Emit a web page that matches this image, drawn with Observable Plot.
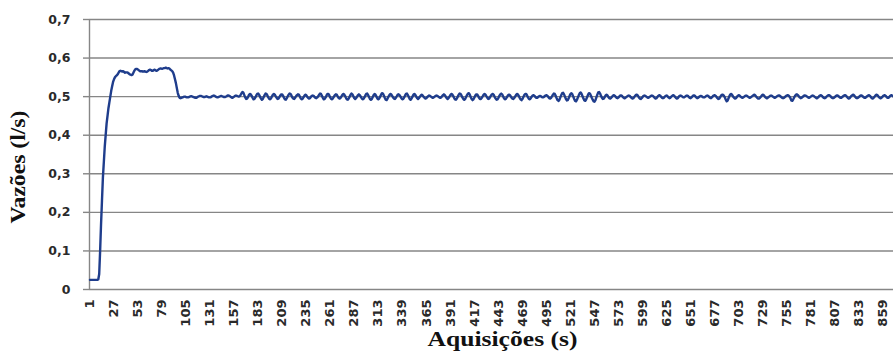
<!DOCTYPE html>
<html><head><meta charset="utf-8">
<script src="https://cdn.jsdelivr.net/npm/d3@7"></script>
<script src="https://cdn.jsdelivr.net/npm/@observablehq/plot@0.6"></script>
<style>body{margin:0;background:#fff}</style>
</head><body><div id="chart"></div>
<script>
// Vazões (l/s) per acquisition
const startup = [
.025,.025,.025,.025,.025,.025,.025,.025,.025,.026,
.04,.10,.17,.23,.29,.33,.37,.40,.43,.45,
.47,.485,.50,.515,.527,.538,.545,.55,.553,.555
];
const plateau = [
.558,.562,.566,.567,.566,.565,.566,.564,.562,.563,
.563,.562,.560,.558,.557,.556,.557,.562,.567,.571,
.572,.572,.570,.568,.566,.566,.566,.565,.565,.566,
.565,.564,.565,.567,.569,.570,.569,.567,.567,.569,
.570,.568,.567,.568,.570,.572,.573,.573,.572,.573,
.574,.574,.575,.574,.573,.574,.573,.570,.568,.566,
.562,.555,.545,.535,.522,.510,.502,.497,.496,.497
];
const settled = [
.498,.499,.500,.500,.499,.498,.498,.499,.500,.501,
.501,.500,.499,.498,.497,.497,.498,.500,.501,.502,
.502,.501,.500,.499,.499,.500,.501,.500,.499,.498,
.498,.499,.501,.502,.503,.502,.500,.499,.498,.499,
.500,.501,.502,.501,.500,.499,.499,.500,.501,.503,
.503,.502,.500,.498,.497,.498,.500,.502,.503,.502,
.501,.500,.501,.504,.509,
.512,.510,.504,.498,.494,.495,.499,.504,.507,.506,
.502,.497,.493,.494,.498,.503,.507,.508,.505,.500,
.495,.492,.494,.499,.504,.508,.507,.503,.498,.494,
.493,.496,.501,.505,.507,.505,.501,.497,.494,.495,
.499,.503,.506,.506,.502,.497,.493,.492,.496,.501,
.505,.508,.507,.503,.498,.495,.494,.497,.501,.504,
.506,.505,.501,.496,.493,.494,.498,.502,.505,.504,
.500,.497,.495,.496,.499,.502,.503,.502,.499,.497,
.496,.498,.501,.505,.508,.507,.502,.497,.493,.494,
.498,.503,.507,.507,.503,.498,.494,.493,.496,.500,
.504,.506,.505,.501,.497,.495,.496,.500,.504,.507,
.506,.502,.497,.493,.492,.495,.500,.505,.508,.506,
.501,.496,.494,.496,.500,.504,.506,.504,.500,.496,
.493,.494,.498,.503,.507,.508,.504,.499,.494,.492,
.494,.499,.504,.507,.505,.500,.495,.493,.495,.500,
.505,.509,.508,.503,.497,.492,.491,.495,.500,.504,
.507,.506,.502,.498,.495,.494,.497,.501,.505,.506,
.504,.500,.496,.493,.494,.498,.503,.507,.508,.504,
.499,.494,.492,.495,.500,.505,.507,.505,.500,.496,
.494,.496,.500,.503,.505,.503,.500,.497,.495,.496,
.499,.501,.503,.502,.500,.498,.497,.498,.500,.502,
.503,.502,.500,.498,.497,.498,.501,.504,.506,.504,
.500,.496,.494,.496,.500,.504,.507,.506,.502,.497,
.493,.492,.495,.500,.505,.508,.507,.503,.498,.494,
.492,.494,.499,.504,.508,.509,.505,.499,.494,.491,
.493,.498,.503,.506,.506,.502,.497,.494,.494,.497,
.501,.505,.507,.505,.501,.497,.494,.495,.499,.503,
.506,.507,.504,.499,.495,.492,.493,.497,.502,.506,
.508,.506,.501,.496,.493,.494,.498,.502,.505,.505,
.502,.498,.495,.494,.496,.500,.504,.507,.506,.502,
.497,.493,.491,.494,.499,.504,.507,.507,.503,.498,
.494,.493,.496,.500,.503,.504,.502,.499,.497,.497,
.499,.501,.502,.501,.499,.498,.499,.501,.503,.504,
.502,.499,.496,.495,.497,.501,.505,.508,.507,.502,
.496,.491,.489,.492,.498,.504,.509,.510,.506,.500,
.494,.490,.491,.496,.502,.507,.509,.506,.500,.494,
.489,.488,.492,.498,.504,.509,.511,.507,.501,.495,
.490,.489,.493,.499,.505,.509,.508,.503,.497,.492,
.488,.487,.491,.498,.505,.511,.512,.508,.502,.497,
.494,.495,.499,.503,.505,.503,.499,.496,.495,.497,
.500,.503,.504,.502,.499,.497,.496,.498,.501,.503,
.503,.501,.498,.496,.496,.498,.500,.502,.503,.502,
.499,.497,.495,.496,.499,.502,.505,.505,.502,.498,
.495,.494,.496,.499,.502,.503,.502,.500,.498,.497,
.498,.500,.502,.503,.502,.500,.497,.495,.496,.499,
.502,.504,.503,.500,.497,.496,.497,.500,.502,.503,
.501,.498,.496,.497,.500,.502,.504,.503,.500,.497,
.495,.496,.499,.502,.503,.502,.500,.498,.498,.500,
.502,.503,.502,.499,.497,.496,.498,.501,.503,.503,
.501,.498,.496,.497,.499,.501,.502,.501,.499,.498,
.498,.500,.502,.503,.502,.499,.497,.496,.498,.501,
.503,.504,.502,.499,.496,.494,.495,.499,.503,.505,
.505,.502,.498,.492,.488,.490,.496,.502,.506,.507,
.504,.500,.497,.495,.496,.499,.502,.504,.503,.500,
.498,.497,.498,.500,.502,.503,.502,.500,.498,.497,
.498,.500,.502,.504,.505,.503,.500,.497,.495,.495,
.497,.500,.503,.505,.504,.501,.498,.496,.496,.498,
.500,.502,.503,.502,.500,.498,.497,.498,.500,.502,
.503,.503,.501,.499,.497,.496,.497,.499,.501,.503,
.504,.503,.500,.496,.490,.489,.493,.498,.502,.505,
.506,.504,.501,.498,.496,.497,.499,.501,.503,.503,
.502,.500,.498,.497,.498,.500,.502,.503,.502,.500,
.498,.496,.496,.498,.501,.503,.504,.502,.499,.497,
.496,.497,.500,.502,.504,.504,.502,.499,.497,.496,
.497,.499,.501,.503,.503,.501,.499,.497,.497,.499,
.501,.503,.504,.503,.500,.497,.495,.496,.499,.502,
.504,.505,.503,.500,.497,.496,.497,.499,.501,.503,
.503,.501,.499,.497,.497,.499,.501,.503,.504,.502,
.499,.496,.495,.497,.500,.503,.505,.504,.501,.498,
.496,.496,.498,.501,.503,.504,.502,.499,.497,.497,
.499,.502,.504,.503,.501
];
const yTicks = [0, 0.1, 0.2, 0.3, 0.4, 0.5, 0.6, 0.7];
const xTickLabels = [1,27,53,79,105,131,157,183,209,235,261,287,313,339,365,391,417,443,469,495,521,547,573,599,625,651,677,703,729,755,781,807,833,859];
const yTitle = "Vazões (l/s)";
const xTitle = "Aquisições (s)";

const flow = [...startup, ...plateau, ...settled];
const N = flow.length;
const data = flow.map((v, i) => ({t: i + 1, v}));
const grid = "#868686";

const chart = Plot.plot({
  width: 893, height: 358,
  marginLeft: 89, marginRight: 0, marginTop: 19, marginBottom: 69,
  style: {fontFamily: "DejaVu Sans", background: "#fff", color: "#222"},
  x: {domain: [0.5, N + 0.5]},
  y: {domain: [0, 0.7]},
  marks: [
    Plot.gridY(yTicks, {stroke: grid, strokeOpacity: 1, strokeWidth: 1.4}),
    Plot.ruleX([0.5], {stroke: grid, strokeWidth: 1.4}),
    Plot.axisY(yTicks, {tickSize: 6, tickPadding: 13, stroke: grid, strokeWidth: 1.4, fontSize: 12.5, fontWeight: "bold", fill: "#2a2a2a",
      tickFormat: d => d === 0 ? "0" : d.toFixed(1).replace(".", ","), label: null}),
    Plot.axisX(xTickLabels, {tickSize: 0, tickPadding: 10, tickRotate: -90, fontFamily: "DejaVu Sans", fontSize: 13, fontWeight: "bold", fill: "#2a2a2a", label: null}),
    Plot.line(data, {x: "t", y: "v", stroke: "#1f3d8c", strokeWidth: 2.4}),
    Plot.text([xTitle], {frameAnchor: "bottom", textAnchor: "start", dx: -64, dy: 56, fontFamily: "Liberation Serif", fontWeight: "bold", fontSize: 20, fill: "#111"}),
    Plot.text([yTitle], {frameAnchor: "left", rotate: -90, textAnchor: "start", dx: -71, dy: 69, fontFamily: "Liberation Serif", fontWeight: "bold", fontSize: 20, fill: "#111"})
  ]
});
d3.select(chart).selectAll("text").each(function() {
  const s = this.textContent;
  if (s === xTitle) d3.select(this).attr("textLength", 150).attr("lengthAdjust", "spacingAndGlyphs");
  if (s === yTitle) d3.select(this).attr("textLength", 113).attr("lengthAdjust", "spacingAndGlyphs");
});
document.getElementById("chart").appendChild(chart);
</script>
</body></html>
